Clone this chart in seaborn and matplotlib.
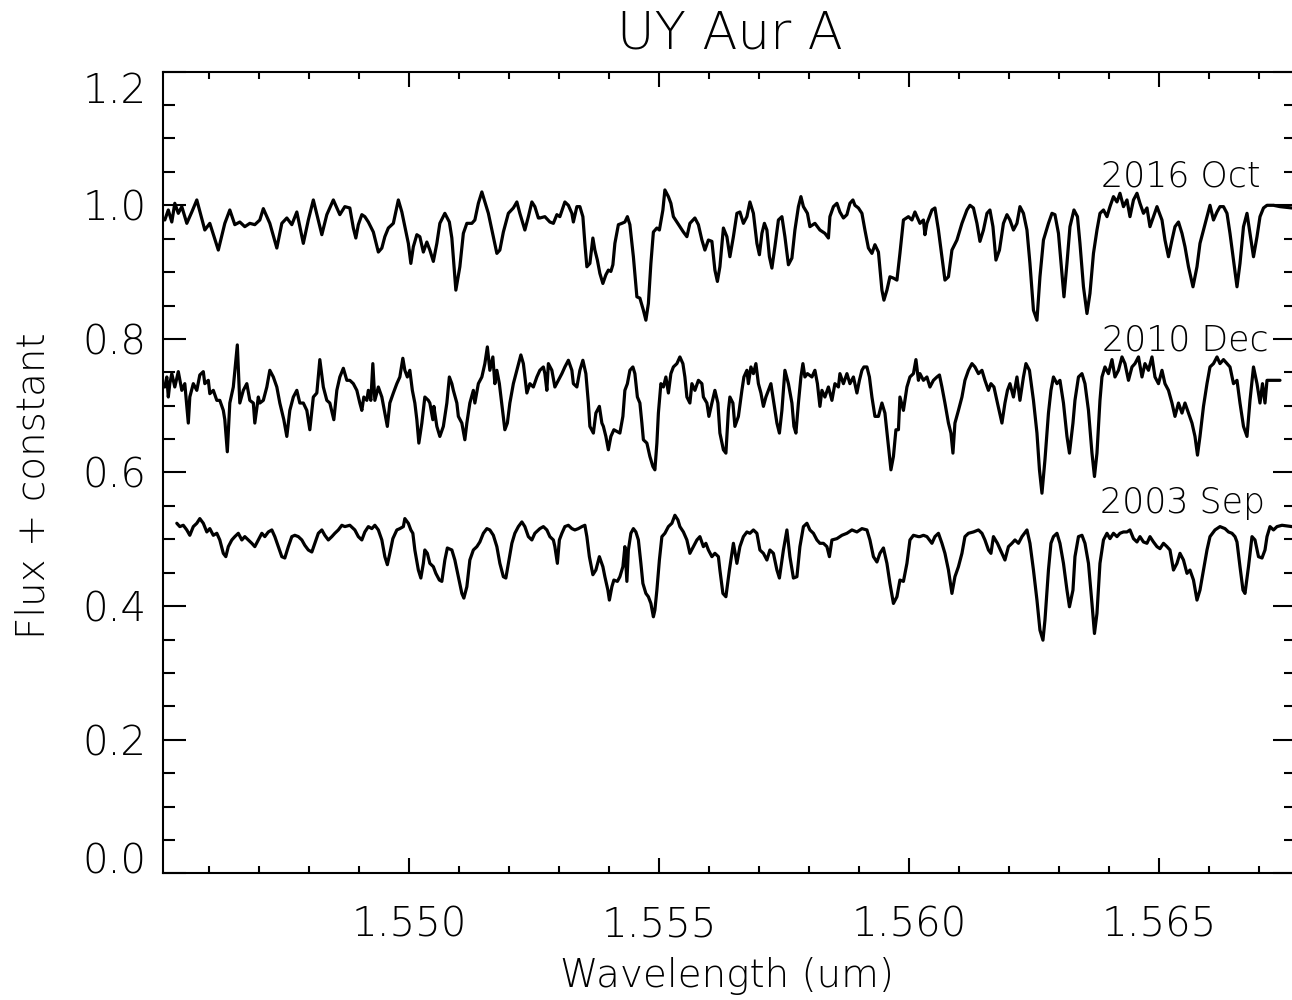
import matplotlib
matplotlib.use("Agg")
import matplotlib.pyplot as plt
from matplotlib.ticker import MultipleLocator, FixedLocator
import pandas as pd
import seaborn as sns

# ---------------- data ----------------
epochs = ["2016 Oct", "2010 Dec", "2003 Sep"]

oct2016 = [
    (1.54511, 0.978), (1.54518, 0.993), (1.54525, 0.975), (1.54531, 1.003), (1.54538, 0.988),
    (1.54545, 0.998), (1.54555, 0.973), (1.54565, 0.990), (1.54575, 1.008), (1.54591, 0.963),
    (1.54601, 0.973), (1.54618, 0.933), (1.54631, 0.973), (1.54641, 0.993), (1.54651, 0.971),
    (1.54661, 0.975), (1.54671, 0.968), (1.54681, 0.973), (1.54691, 0.971), (1.54701, 0.978),
    (1.54708, 0.995), (1.54721, 0.973), (1.54735, 0.936), (1.54745, 0.973), (1.54755, 0.981),
    (1.54765, 0.971), (1.54775, 0.990), (1.54788, 0.943), (1.54798, 0.978), (1.54808, 1.008),
    (1.54825, 0.956), (1.54835, 0.986), (1.54848, 1.008), (1.54861, 0.986), (1.54871, 0.998),
    (1.54881, 0.996), (1.54888, 0.966), (1.54893, 0.951), (1.54898, 0.971), (1.54905, 0.986),
    (1.54911, 0.983), (1.54918, 0.975), (1.54928, 0.960), (1.54938, 0.930), (1.54945, 0.936),
    (1.54951, 0.953), (1.54958, 0.966), (1.54968, 0.973), (1.54978, 1.008), (1.54985, 0.990),
    (1.54991, 0.968), (1.54998, 0.943), (1.55003, 0.913), (1.55008, 0.938), (1.55015, 0.956),
    (1.55021, 0.953), (1.55028, 0.930), (1.55035, 0.945), (1.55041, 0.933), (1.55048, 0.916),
    (1.55055, 0.943), (1.55061, 0.973), (1.55071, 0.988), (1.55080, 0.975), (1.55085, 0.951),
    (1.55093, 0.873), (1.55101, 0.908), (1.55108, 0.958), (1.55115, 0.973), (1.55125, 0.973),
    (1.55131, 0.978), (1.55138, 1.003), (1.55145, 1.020), (1.55151, 1.005), (1.55158, 0.988),
    (1.55168, 0.953), (1.55175, 0.928), (1.55181, 0.933), (1.55188, 0.960), (1.55198, 0.988),
    (1.55208, 0.996), (1.55215, 1.005), (1.55221, 0.988), (1.55231, 0.963), (1.55238, 0.983),
    (1.55245, 1.005), (1.55251, 0.998), (1.55258, 0.981),
    (1.55261, 0.981), (1.55271, 0.983), (1.55281, 0.975), (1.55288, 0.973), (1.55295, 0.986),
    (1.55301, 0.983), (1.55311, 1.005), (1.55318, 1.000), (1.55325, 0.988), (1.55328, 0.975),
    (1.55335, 0.998), (1.55341, 0.998), (1.55347, 0.983), (1.55351, 0.943), (1.55355, 0.908),
    (1.55361, 0.913), (1.55367, 0.951), (1.55371, 0.933), (1.55376, 0.918), (1.55381, 0.898),
    (1.55387, 0.883), (1.55393, 0.896), (1.55398, 0.903), (1.55403, 0.901), (1.55407, 0.911),
    (1.55411, 0.943), (1.55418, 0.971), (1.55425, 0.973), (1.55431, 0.975), (1.55436, 0.983),
    (1.55441, 0.971), (1.55448, 0.923), (1.55455, 0.863), (1.55461, 0.861), (1.55468, 0.843),
    (1.55473, 0.828), (1.55478, 0.853), (1.55483, 0.913), (1.55488, 0.960), (1.55495, 0.966),
    (1.55500, 0.963), (1.55507, 0.993), (1.55511, 1.023), (1.55518, 1.013), (1.55523, 1.003),
    (1.55528, 0.983), (1.55535, 0.975), (1.55541, 0.968), (1.55548, 0.960), (1.55555, 0.953),
    (1.55561, 0.973), (1.55571, 0.981), (1.55578, 0.971), (1.55585, 0.948), (1.55591, 0.933),
    (1.55598, 0.948), (1.55605, 0.946), (1.55611, 0.903), (1.55616, 0.886), (1.55621, 0.908),
    (1.55628, 0.966), (1.55635, 0.953),
    (1.55641, 0.923), (1.55648, 0.953), (1.55655, 0.988), (1.55661, 0.990), (1.55668, 0.973),
    (1.55675, 0.983), (1.55681, 1.005), (1.55688, 0.988), (1.55695, 0.943), (1.55700, 0.926),
    (1.55705, 0.958), (1.55710, 0.973), (1.55715, 0.963), (1.55720, 0.923), (1.55725, 0.906),
    (1.55731, 0.938), (1.55738, 0.978), (1.55745, 0.983), (1.55751, 0.953), (1.55758, 0.911),
    (1.55765, 0.921), (1.55771, 0.963), (1.55778, 0.998), (1.55783, 1.013), (1.55788, 0.998),
    (1.55796, 0.988), (1.55801, 0.968), (1.55811, 0.973), (1.55821, 0.963), (1.55831, 0.958),
    (1.55838, 0.951), (1.55841, 0.983), (1.55848, 0.998), (1.55855, 1.003), (1.55861, 0.990),
    (1.55868, 0.981), (1.55875, 0.986), (1.55881, 1.003), (1.55887, 1.008), (1.55891, 1.000),
    (1.55898, 0.996), (1.55905, 0.988), (1.55911, 0.963), (1.55918, 0.936), (1.55925, 0.928),
    (1.55931, 0.941), (1.55938, 0.930), (1.55945, 0.873), (1.55949, 0.858), (1.55955, 0.873),
    (1.55961, 0.893), (1.55968, 0.891), (1.55975, 0.888), (1.55981, 0.928), (1.55988, 0.978),
    (1.55998, 0.983), (1.56005, 0.978), (1.56011, 0.990), (1.56018, 0.978),
    (1.56021, 0.973), (1.56028, 0.978), (1.56031, 0.956), (1.56035, 0.973), (1.56045, 0.993),
    (1.56051, 0.996), (1.56058, 0.963), (1.56065, 0.923), (1.56071, 0.888), (1.56078, 0.893),
    (1.56085, 0.933), (1.56095, 0.948), (1.56105, 0.973), (1.56115, 0.993), (1.56121, 1.000),
    (1.56128, 0.996), (1.56135, 0.973), (1.56141, 0.946), (1.56148, 0.963), (1.56155, 0.988),
    (1.56161, 0.993), (1.56167, 0.968), (1.56173, 0.918), (1.56180, 0.933), (1.56188, 0.973),
    (1.56195, 0.986), (1.56201, 0.978), (1.56208, 0.963), (1.56215, 0.973), (1.56221, 0.998),
    (1.56228, 0.988), (1.56235, 0.963), (1.56241, 0.913), (1.56248, 0.843), (1.56255, 0.828),
    (1.56261, 0.893), (1.56268, 0.948), (1.56278, 0.973), (1.56285, 0.988), (1.56291, 0.986),
    (1.56298, 0.958), (1.56305, 0.898), (1.56309, 0.863), (1.56315, 0.913), (1.56321, 0.968),
    (1.56329, 0.993), (1.56336, 0.983), (1.56341, 0.943), (1.56348, 0.878), (1.56355, 0.838),
    (1.56361, 0.868), (1.56368, 0.928), (1.56375, 0.963),
    (1.56381, 0.988), (1.56388, 0.993), (1.56395, 0.983), (1.56401, 0.998), (1.56408, 1.013),
    (1.56415, 1.005), (1.56421, 1.018), (1.56428, 0.998), (1.56435, 1.008), (1.56441, 0.983),
    (1.56448, 1.008), (1.56455, 1.018), (1.56461, 1.003), (1.56468, 0.988), (1.56475, 0.996),
    (1.56481, 0.968), (1.56488, 0.983), (1.56495, 0.998), (1.56505, 0.978), (1.56511, 0.948),
    (1.56518, 0.923), (1.56525, 0.948), (1.56531, 0.968), (1.56538, 0.975), (1.56545, 0.958),
    (1.56551, 0.938), (1.56558, 0.908), (1.56567, 0.878), (1.56575, 0.908), (1.56581, 0.943),
    (1.56588, 0.963), (1.56595, 0.983), (1.56601, 1.000), (1.56608, 0.978), (1.56615, 0.990),
    (1.56621, 0.998), (1.56628, 0.998), (1.56635, 0.988), (1.56641, 0.958), (1.56648, 0.918),
    (1.56655, 0.878), (1.56661, 0.913), (1.56668, 0.968), (1.56675, 0.988), (1.56681, 0.958),
    (1.56688, 0.923), (1.56695, 0.953), (1.56701, 0.983), (1.56708, 0.996), (1.56715, 1.000),
    (1.56728, 1.000), (1.56741, 0.998), (1.56765, 0.996),
]

dec2010 = [
    (1.54511, 0.728), (1.54515, 0.743), (1.54518, 0.713), (1.54521, 0.733), (1.54525, 0.748),
    (1.54531, 0.728), (1.54538, 0.751), (1.54545, 0.723), (1.54551, 0.733), (1.54558, 0.674),
    (1.54561, 0.713), (1.54568, 0.733), (1.54575, 0.723), (1.54581, 0.746), (1.54588, 0.751),
    (1.54591, 0.733), (1.54598, 0.738), (1.54601, 0.718), (1.54608, 0.723), (1.54615, 0.708),
    (1.54621, 0.708), (1.54628, 0.693), (1.54631, 0.679), (1.54636, 0.631), (1.54641, 0.704),
    (1.54648, 0.728), (1.54656, 0.791), (1.54661, 0.704), (1.54668, 0.723), (1.54675, 0.733),
    (1.54681, 0.708), (1.54688, 0.704), (1.54691, 0.674), (1.54698, 0.713), (1.54701, 0.704),
    (1.54708, 0.708), (1.54715, 0.728), (1.54721, 0.753), (1.54728, 0.743), (1.54735, 0.728),
    (1.54741, 0.704), (1.54749, 0.679), (1.54755, 0.654), (1.54761, 0.693), (1.54768, 0.713),
    (1.54775, 0.723), (1.54781, 0.704), (1.54788, 0.704), (1.54795, 0.693), (1.54801, 0.664),
    (1.54808, 0.713), (1.54815, 0.719), (1.54821, 0.769), (1.54828, 0.728), (1.54835, 0.708),
    (1.54841, 0.704), (1.54849, 0.679), (1.54855, 0.723), (1.54861, 0.743), (1.54868, 0.756),
    (1.54875, 0.738),
    (1.54881, 0.738), (1.54888, 0.733), (1.54895, 0.723), (1.54901, 0.704), (1.54905, 0.693),
    (1.54909, 0.713), (1.54915, 0.708), (1.54918, 0.723), (1.54923, 0.708), (1.54927, 0.763),
    (1.54931, 0.708), (1.54938, 0.728), (1.54945, 0.713), (1.54951, 0.689), (1.54956, 0.669),
    (1.54961, 0.704), (1.54968, 0.719), (1.54975, 0.733), (1.54981, 0.743), (1.54987, 0.771),
    (1.54991, 0.753), (1.54996, 0.743), (1.55001, 0.753), (1.55006, 0.723), (1.55011, 0.704),
    (1.55015, 0.679), (1.55019, 0.644), (1.55025, 0.674), (1.55031, 0.713), (1.55038, 0.708),
    (1.55041, 0.704), (1.55047, 0.679), (1.55049, 0.699), (1.55055, 0.669), (1.55061, 0.654),
    (1.55068, 0.669), (1.55075, 0.704), (1.55080, 0.743), (1.55085, 0.733), (1.55088, 0.723),
    (1.55095, 0.704), (1.55098, 0.684), (1.55105, 0.674), (1.55111, 0.649), (1.55115, 0.674),
    (1.55121, 0.704), (1.55128, 0.723), (1.55131, 0.704), (1.55138, 0.733), (1.55145, 0.743),
    (1.55151, 0.763), (1.55156, 0.788), (1.55161, 0.753), (1.55167, 0.773), (1.55171, 0.733),
    (1.55175, 0.753), (1.55180, 0.733), (1.55187, 0.689), (1.55191, 0.664), (1.55196, 0.674),
    (1.55201, 0.704), (1.55208, 0.733), (1.55215, 0.753), (1.55223, 0.776), (1.55228, 0.763),
    (1.55235, 0.719), (1.55241, 0.733), (1.55248, 0.728), (1.55255, 0.743),
    (1.55261, 0.753), (1.55268, 0.758), (1.55271, 0.748), (1.55275, 0.723), (1.55278, 0.763),
    (1.55285, 0.753), (1.55291, 0.728), (1.55298, 0.738), (1.55305, 0.748), (1.55311, 0.758),
    (1.55318, 0.768), (1.55325, 0.753), (1.55328, 0.733), (1.55335, 0.728), (1.55341, 0.753),
    (1.55347, 0.768), (1.55353, 0.748), (1.55358, 0.704), (1.55361, 0.669), (1.55368, 0.659),
    (1.55373, 0.689), (1.55380, 0.699), (1.55385, 0.674), (1.55388, 0.669), (1.55393, 0.654),
    (1.55398, 0.634), (1.55403, 0.654), (1.55409, 0.664), (1.55416, 0.661), (1.55421, 0.659),
    (1.55427, 0.684), (1.55431, 0.723), (1.55436, 0.733), (1.55441, 0.753), (1.55447, 0.758),
    (1.55451, 0.748), (1.55456, 0.713), (1.55461, 0.704), (1.55465, 0.674), (1.55468, 0.649),
    (1.55475, 0.644), (1.55481, 0.624), (1.55487, 0.609), (1.55491, 0.604), (1.55495, 0.644),
    (1.55498, 0.689), (1.55503, 0.733), (1.55508, 0.728), (1.55513, 0.743), (1.55518, 0.719),
    (1.55523, 0.748), (1.55528, 0.758), (1.55535, 0.763), (1.55541, 0.773), (1.55547, 0.763),
    (1.55551, 0.743), (1.55555, 0.713), (1.55561, 0.704), (1.55565, 0.733), (1.55571, 0.723),
    (1.55578, 0.738), (1.55585, 0.733), (1.55588, 0.713), (1.55595, 0.704), (1.55599, 0.684),
    (1.55605, 0.704), (1.55611, 0.723), (1.55617, 0.704), (1.55621, 0.659), (1.55628, 0.634),
    (1.55633, 0.629), (1.55638, 0.693),
    (1.55641, 0.713), (1.55647, 0.704), (1.55651, 0.669), (1.55658, 0.684), (1.55665, 0.723),
    (1.55669, 0.743), (1.55675, 0.753), (1.55678, 0.733), (1.55683, 0.758), (1.55688, 0.748),
    (1.55693, 0.763), (1.55698, 0.733), (1.55703, 0.719), (1.55708, 0.699), (1.55713, 0.713),
    (1.55718, 0.723), (1.55723, 0.733), (1.55728, 0.708), (1.55735, 0.674), (1.55740, 0.659),
    (1.55745, 0.693), (1.55751, 0.753), (1.55758, 0.733), (1.55765, 0.704), (1.55769, 0.669),
    (1.55773, 0.659), (1.55778, 0.704), (1.55783, 0.743), (1.55787, 0.763), (1.55791, 0.743),
    (1.55796, 0.748), (1.55805, 0.743), (1.55811, 0.753), (1.55816, 0.733), (1.55821, 0.699),
    (1.55825, 0.723), (1.55831, 0.713), (1.55838, 0.728), (1.55845, 0.708), (1.55851, 0.733),
    (1.55858, 0.728), (1.55861, 0.748), (1.55868, 0.733), (1.55875, 0.748), (1.55881, 0.733),
    (1.55888, 0.743), (1.55895, 0.719), (1.55900, 0.738), (1.55905, 0.753), (1.55909, 0.758),
    (1.55915, 0.758), (1.55920, 0.743), (1.55925, 0.713), (1.55931, 0.684), (1.55938, 0.684),
    (1.55945, 0.704), (1.55951, 0.689), (1.55958, 0.639), (1.55963, 0.604), (1.55968, 0.624),
    (1.55973, 0.664), (1.55978, 0.664), (1.55981, 0.713), (1.55988, 0.693), (1.55995, 0.728),
    (1.56001, 0.743), (1.56008, 0.748), (1.56013, 0.769), (1.56018, 0.738),
    (1.56021, 0.748), (1.56028, 0.738), (1.56035, 0.743), (1.56041, 0.728), (1.56048, 0.738),
    (1.56055, 0.743), (1.56060, 0.746), (1.56065, 0.728), (1.56071, 0.704), (1.56078, 0.674),
    (1.56083, 0.659), (1.56087, 0.629), (1.56091, 0.674), (1.56098, 0.693), (1.56105, 0.713),
    (1.56111, 0.738), (1.56118, 0.753), (1.56125, 0.763), (1.56131, 0.758), (1.56138, 0.748),
    (1.56145, 0.753), (1.56151, 0.738), (1.56158, 0.723), (1.56163, 0.733), (1.56169, 0.728),
    (1.56176, 0.704), (1.56185, 0.674), (1.56191, 0.704), (1.56196, 0.723), (1.56201, 0.733),
    (1.56208, 0.713), (1.56215, 0.743), (1.56221, 0.708), (1.56228, 0.743), (1.56233, 0.763),
    (1.56240, 0.753), (1.56248, 0.708), (1.56255, 0.659), (1.56260, 0.604), (1.56265, 0.569),
    (1.56271, 0.619), (1.56278, 0.689), (1.56283, 0.723), (1.56288, 0.743), (1.56295, 0.733),
    (1.56301, 0.738), (1.56308, 0.704), (1.56315, 0.654), (1.56320, 0.629), (1.56327, 0.674),
    (1.56331, 0.708), (1.56338, 0.743), (1.56345, 0.748), (1.56351, 0.733), (1.56358, 0.693),
    (1.56365, 0.629), (1.56370, 0.594), (1.56375, 0.629),
    (1.56381, 0.708), (1.56385, 0.743), (1.56391, 0.758), (1.56398, 0.748), (1.56405, 0.769),
    (1.56411, 0.743), (1.56418, 0.753), (1.56425, 0.773), (1.56431, 0.763), (1.56438, 0.738),
    (1.56445, 0.758), (1.56451, 0.763), (1.56458, 0.773), (1.56465, 0.743), (1.56471, 0.763),
    (1.56478, 0.753), (1.56485, 0.773), (1.56491, 0.743), (1.56498, 0.733), (1.56505, 0.753),
    (1.56511, 0.733), (1.56518, 0.723), (1.56525, 0.704), (1.56531, 0.684), (1.56538, 0.704),
    (1.56545, 0.689), (1.56551, 0.704), (1.56558, 0.689), (1.56565, 0.674), (1.56571, 0.654),
    (1.56576, 0.626), (1.56581, 0.654), (1.56588, 0.699), (1.56595, 0.733), (1.56601, 0.758),
    (1.56608, 0.763), (1.56615, 0.773), (1.56621, 0.763), (1.56628, 0.769), (1.56635, 0.763),
    (1.56641, 0.758), (1.56648, 0.733), (1.56655, 0.738), (1.56661, 0.704), (1.56668, 0.669),
    (1.56675, 0.654), (1.56681, 0.708), (1.56688, 0.758), (1.56695, 0.733), (1.56701, 0.704),
    (1.56706, 0.733), (1.56711, 0.704), (1.56715, 0.738), (1.56741, 0.738),
]

sep2003 = [
    (1.54535, 0.524), (1.54541, 0.519), (1.54548, 0.521), (1.54555, 0.514), (1.54561, 0.506),
    (1.54568, 0.519), (1.54575, 0.524), (1.54581, 0.531), (1.54588, 0.524), (1.54595, 0.511),
    (1.54601, 0.516), (1.54608, 0.506), (1.54615, 0.509), (1.54621, 0.499), (1.54628, 0.479),
    (1.54633, 0.474), (1.54638, 0.489), (1.54645, 0.499), (1.54651, 0.504), (1.54658, 0.509),
    (1.54665, 0.499), (1.54671, 0.504), (1.54678, 0.499), (1.54685, 0.494), (1.54691, 0.489),
    (1.54698, 0.499), (1.54705, 0.509), (1.54711, 0.504), (1.54718, 0.511), (1.54725, 0.514),
    (1.54731, 0.504), (1.54738, 0.489), (1.54745, 0.474), (1.54751, 0.472), (1.54758, 0.489),
    (1.54765, 0.504), (1.54771, 0.506), (1.54778, 0.504), (1.54785, 0.499), (1.54791, 0.491),
    (1.54798, 0.484), (1.54805, 0.481), (1.54811, 0.494), (1.54818, 0.509), (1.54825, 0.514),
    (1.54831, 0.506), (1.54838, 0.499), (1.54845, 0.504), (1.54851, 0.509), (1.54858, 0.514),
    (1.54865, 0.521), (1.54871, 0.519),
    (1.54881, 0.521), (1.54891, 0.514), (1.54898, 0.504), (1.54905, 0.499), (1.54911, 0.511),
    (1.54918, 0.519), (1.54925, 0.516), (1.54931, 0.521), (1.54938, 0.514), (1.54945, 0.499),
    (1.54951, 0.474), (1.54956, 0.462), (1.54961, 0.479), (1.54967, 0.501), (1.54975, 0.514),
    (1.54981, 0.516), (1.54988, 0.519), (1.54991, 0.531), (1.54998, 0.524), (1.55003, 0.514),
    (1.55007, 0.509), (1.55011, 0.484), (1.55018, 0.454), (1.55023, 0.442), (1.55028, 0.464),
    (1.55031, 0.484), (1.55036, 0.479), (1.55041, 0.464), (1.55048, 0.459), (1.55053, 0.449),
    (1.55060, 0.439), (1.55065, 0.437), (1.55071, 0.469), (1.55076, 0.487), (1.55085, 0.484),
    (1.55091, 0.469), (1.55098, 0.444), (1.55105, 0.419), (1.55109, 0.412), (1.55115, 0.429),
    (1.55121, 0.469), (1.55128, 0.484), (1.55135, 0.489), (1.55141, 0.496), (1.55148, 0.509),
    (1.55155, 0.516), (1.55161, 0.514), (1.55168, 0.506), (1.55175, 0.489), (1.55181, 0.464),
    (1.55188, 0.444), (1.55193, 0.442), (1.55198, 0.464), (1.55205, 0.494), (1.55211, 0.509),
    (1.55218, 0.519), (1.55225, 0.526), (1.55231, 0.519), (1.55238, 0.504), (1.55245, 0.499),
    (1.55251, 0.509), (1.55258, 0.514),
    (1.55261, 0.516), (1.55268, 0.519), (1.55275, 0.514), (1.55281, 0.504), (1.55288, 0.499),
    (1.55291, 0.489), (1.55296, 0.464), (1.55300, 0.499), (1.55305, 0.509), (1.55311, 0.519),
    (1.55318, 0.521), (1.55325, 0.516), (1.55331, 0.514), (1.55338, 0.516), (1.55345, 0.519),
    (1.55351, 0.521), (1.55355, 0.504), (1.55360, 0.474), (1.55367, 0.447), (1.55373, 0.454),
    (1.55380, 0.474), (1.55387, 0.459), (1.55391, 0.444), (1.55397, 0.424), (1.55400, 0.409),
    (1.55405, 0.429), (1.55409, 0.439), (1.55416, 0.437), (1.55421, 0.444), (1.55427, 0.459),
    (1.55431, 0.489), (1.55435, 0.437), (1.55438, 0.484), (1.55443, 0.509), (1.55448, 0.516),
    (1.55453, 0.511), (1.55458, 0.499), (1.55463, 0.464), (1.55467, 0.434), (1.55473, 0.419),
    (1.55478, 0.414), (1.55483, 0.404), (1.55488, 0.384), (1.55491, 0.394), (1.55495, 0.424),
    (1.55500, 0.469), (1.55505, 0.504), (1.55511, 0.509), (1.55518, 0.519), (1.55525, 0.524),
    (1.55531, 0.536), (1.55537, 0.529), (1.55541, 0.519), (1.55548, 0.511), (1.55555, 0.499),
    (1.55561, 0.479), (1.55568, 0.489), (1.55575, 0.499), (1.55581, 0.504), (1.55588, 0.489),
    (1.55593, 0.494), (1.55598, 0.484), (1.55605, 0.474), (1.55611, 0.479), (1.55618, 0.474),
    (1.55621, 0.454), (1.55627, 0.419), (1.55633, 0.414), (1.55640, 0.454),
    (1.55648, 0.494), (1.55655, 0.464), (1.55661, 0.489), (1.55668, 0.504), (1.55675, 0.511),
    (1.55681, 0.509), (1.55688, 0.514), (1.55695, 0.509), (1.55701, 0.484), (1.55708, 0.479),
    (1.55715, 0.469), (1.55721, 0.484), (1.55728, 0.479), (1.55735, 0.454), (1.55740, 0.442),
    (1.55748, 0.484), (1.55755, 0.514), (1.55761, 0.474), (1.55768, 0.442), (1.55775, 0.444),
    (1.55781, 0.489), (1.55788, 0.519), (1.55795, 0.524), (1.55801, 0.514), (1.55808, 0.509),
    (1.55815, 0.499), (1.55821, 0.494), (1.55828, 0.494), (1.55835, 0.489), (1.55840, 0.474),
    (1.55845, 0.499), (1.55855, 0.501), (1.55865, 0.506), (1.55875, 0.509), (1.55885, 0.514),
    (1.55895, 0.511), (1.55905, 0.516), (1.55915, 0.514), (1.55921, 0.499), (1.55928, 0.474),
    (1.55935, 0.466), (1.55941, 0.479), (1.55948, 0.487), (1.55955, 0.464), (1.55961, 0.434),
    (1.55968, 0.404), (1.55975, 0.414), (1.55981, 0.439), (1.55988, 0.437), (1.55995, 0.464),
    (1.56001, 0.499), (1.56008, 0.506), (1.56018, 0.504),
    (1.56021, 0.504), (1.56028, 0.506), (1.56035, 0.504), (1.56045, 0.494), (1.56051, 0.504),
    (1.56058, 0.509), (1.56065, 0.494), (1.56071, 0.479), (1.56078, 0.454), (1.56085, 0.419),
    (1.56091, 0.444), (1.56098, 0.459), (1.56105, 0.479), (1.56111, 0.504), (1.56118, 0.509),
    (1.56128, 0.511), (1.56138, 0.514), (1.56145, 0.509), (1.56151, 0.499), (1.56158, 0.484),
    (1.56163, 0.479), (1.56168, 0.504), (1.56176, 0.494), (1.56185, 0.479), (1.56191, 0.469),
    (1.56198, 0.489), (1.56205, 0.494), (1.56211, 0.499), (1.56218, 0.494), (1.56225, 0.504),
    (1.56235, 0.514), (1.56241, 0.494), (1.56248, 0.454), (1.56255, 0.409), (1.56261, 0.364),
    (1.56267, 0.349), (1.56271, 0.379), (1.56278, 0.454), (1.56283, 0.494), (1.56288, 0.504),
    (1.56295, 0.509), (1.56301, 0.494), (1.56308, 0.464), (1.56315, 0.424), (1.56320, 0.399),
    (1.56327, 0.424), (1.56331, 0.474), (1.56338, 0.504), (1.56345, 0.506), (1.56351, 0.494),
    (1.56358, 0.464), (1.56365, 0.404), (1.56370, 0.359), (1.56375, 0.389), (1.56381, 0.464),
    (1.56388, 0.499), (1.56395, 0.509), (1.56401, 0.501), (1.56408, 0.509), (1.56415, 0.504),
    (1.56421, 0.509), (1.56428, 0.511), (1.56435, 0.511), (1.56441, 0.514), (1.56448, 0.501),
    (1.56455, 0.496), (1.56461, 0.504), (1.56468, 0.496), (1.56475, 0.494), (1.56481, 0.504),
    (1.56488, 0.496), (1.56495, 0.489), (1.56501, 0.486), (1.56508, 0.494), (1.56515, 0.489),
    (1.56521, 0.484), (1.56528, 0.454), (1.56535, 0.464), (1.56541, 0.479), (1.56548, 0.469),
    (1.56555, 0.449), (1.56561, 0.454), (1.56568, 0.439), (1.56575, 0.409), (1.56581, 0.424),
    (1.56588, 0.454), (1.56595, 0.484), (1.56601, 0.504), (1.56611, 0.514), (1.56621, 0.519),
    (1.56631, 0.516), (1.56638, 0.511), (1.56645, 0.509), (1.56651, 0.504), (1.56655, 0.496),
    (1.56661, 0.459), (1.56667, 0.424), (1.56671, 0.419), (1.56678, 0.459), (1.56685, 0.504),
    (1.56691, 0.499), (1.56698, 0.474), (1.56705, 0.472), (1.56711, 0.484), (1.56715, 0.504),
    (1.56721, 0.519), (1.56728, 0.514), (1.56735, 0.519), (1.56745, 0.521), (1.56765, 0.519),
]

# label anchor (right end, baseline) for each epoch
label_wl = [1.56702, 1.56718, 1.56712]
label_flux = [1.028, 0.783, 0.539]

x_major = [1.550, 1.555, 1.560, 1.565]
x_labels = ["1.550", "1.555", "1.560", "1.565"]
y_major = [0.0, 0.2, 0.4, 0.6, 0.8, 1.0, 1.2]
y_labels = ["0.0", "0.2", "0.4", "0.6", "0.8", "1.0", "1.2"]

title = "UY Aur A"
xlabel = "Wavelength (um)"
ylabel = "Flux + constant"

# ---------------- build tidy table ----------------
frames = []
for name, series in zip(epochs, [oct2016, dec2010, sep2003]):
    d = pd.DataFrame(series, columns=["wavelength", "flux"])
    d["epoch"] = name
    frames.append(d)
df = pd.concat(frames, ignore_index=True)

# ---------------- style ----------------
sns.set_style("ticks")
plt.rcParams["font.family"] = ["DejaVu Sans"]
plt.rcParams["font.weight"] = "light"
plt.rcParams["axes.titleweight"] = "light"
TXT = "#000000"

W, H = 1292, 1000
fig = plt.figure(figsize=(W / 100, H / 100), dpi=100)
ax_l, ax_r, ax_t, ax_b = 163.3, 1296.0, 71.7, 873.3
ax = fig.add_axes([ax_l / W, 1 - ax_b / H, (ax_r - ax_l) / W, (ax_b - ax_t) / H])

sns.lineplot(data=df, x="wavelength", y="flux", units="epoch", estimator=None,
             sort=False, color="black", linewidth=2.3, ax=ax, legend=False,
             solid_joinstyle="round")

ax.set_xlim(1.54508, 1.56773)
ax.set_ylim(0.0, 1.2)

ax.xaxis.set_major_locator(FixedLocator(x_major))
ax.set_xticks(x_major, x_labels)
ax.xaxis.set_minor_locator(MultipleLocator(0.001))
ax.set_yticks(y_major, y_labels)
ax.yaxis.set_minor_locator(MultipleLocator(0.05))

for s in ax.spines.values():
    s.set_linewidth(1.5)
    s.set_color("black")

ax.tick_params(which="both", direction="in", top=True, right=True, width=1.5,
               color="black", labelcolor=TXT, labelsize=29)
ax.tick_params(axis="x", which="major", length=10.8, pad=23)
ax.tick_params(axis="x", which="minor", length=5.3)
ax.tick_params(axis="y", which="major", length=16.3, pad=12)
ax.tick_params(axis="y", which="minor", length=8.4)

ylabs = ax.get_yticklabels()
ylabs[0].set_verticalalignment("baseline")
ylabs[-1].set_verticalalignment("top")

ax.set_xlabel("")
ax.set_ylabel("")
ax.set_title(title, fontsize=37, color=TXT, pad=16.8, fontweight="light")
fig.text(726.7 / W, 1 - 986.7 / H, xlabel, ha="center", va="baseline",
         fontsize=28, color=TXT, fontweight="light")
fig.text(33.5 / W, 1 - 486 / H, ylabel, ha="center", va="center", rotation=90,
         fontsize=28, color=TXT, fontweight="light")

for name, lx, ly in zip(epochs, label_wl, label_flux):
    ax.text(lx, ly, name, ha="right", va="baseline", fontsize=25, color=TXT,
            fontweight="light")

fig.savefig("out.png", dpi=100)
